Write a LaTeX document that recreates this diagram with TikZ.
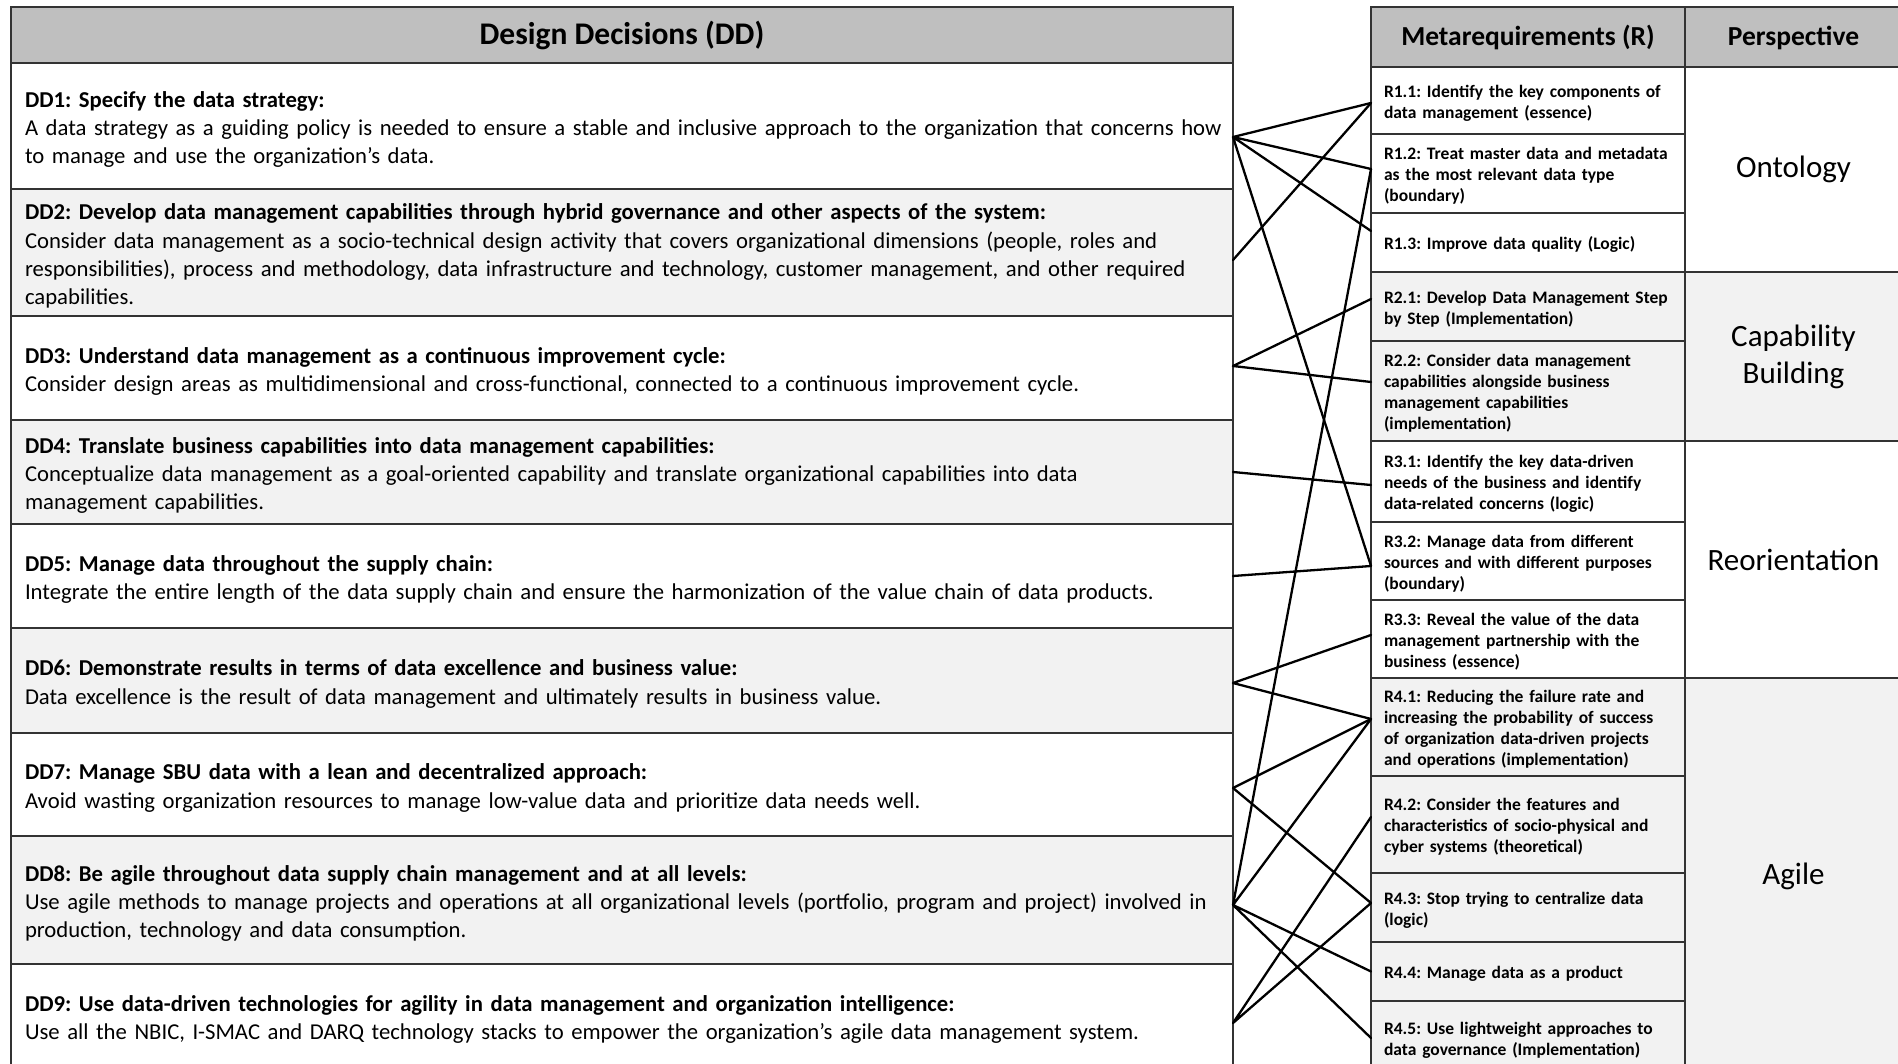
\documentclass[tikz,border=0pt]{standalone}
\usepackage{fontspec}
\setmainfont{Carlito}
\usepackage{xcolor}
\definecolor{hdrgray}{HTML}{BFBFBF}
\definecolor{rowgray}{HTML}{F2F2F2}
\usetikzlibrary{positioning}
\frenchspacing

\begin{document}
\begin{tikzpicture}[x=1pt,y=-1pt,node distance=0pt,
    cell/.style={rectangle,draw=black!80,line width=1.8pt,outer sep=0pt,inner ysep=0pt},
    hdr/.style={cell,fill=hdrgray,font=\fontsize{27.5}{32}\selectfont\bfseries,
                text height=24pt,text depth=7pt},
    dd/.style={cell,text width=1194pt,inner xsep=14pt,align=left,
               font=\fontsize{22.7}{28.3}\selectfont,
               execute at begin node={\rule{0pt}{23pt}}},
    req/.style={cell,text width=288pt,inner xsep=13pt,align=left,
                font=\fontsize{17.5}{21}\selectfont\bfseries,
                execute at begin node={\rule{0pt}{17.5pt}}},
    persp/.style={cell,minimum width=217pt,align=center,
                  font=\fontsize{31}{37}\selectfont},
    link/.style={line width=2.3pt,line cap=round}]
  \path[use as bounding box,fill=white] (0,0) rectangle (1898,1064);

  % design decisions
  \node[hdr,minimum width=1222pt,minimum height=56pt,anchor=north west,
        font=\fontsize{31.5}{36}\selectfont\bfseries,text height=27pt,text depth=8pt] (ddh) at (11,7) {Design Decisions (DD)};
  \node[dd,fill=white,minimum height=126pt,below=of ddh] (dd1) {\textbf{DD1: Specify the data strategy:}\\
    \mbox{A data strategy as a guiding policy is needed to ensure a stable and inclusive approach to the organization that concerns how}\\
    to manage and use the organization's data.};
  \node[dd,fill=rowgray,minimum height=127pt,below=of dd1] (dd2) {\textbf{DD2: Develop data management capabilities through hybrid governance and other aspects of the system:}\\
    \mbox{Consider data management as a socio-technical design activity that covers organizational dimensions (people, roles and}\\
    \mbox{responsibilities), process and methodology, data infrastructure and technology, customer management, and other required}\\
    capabilities.};
  \node[dd,fill=white,minimum height=104pt,below=of dd2] (dd3) {\textbf{DD3: Understand data management as a continuous improvement cycle:}\\
    Consider design areas as multidimensional and cross-functional, connected to a continuous improvement cycle.};
  \node[dd,fill=rowgray,minimum height=104pt,below=of dd3] (dd4) {\textbf{DD4: Translate business capabilities into data management capabilities:}\\
    Conceptualize data management as a goal-oriented capability and translate organizational capabilities into data\\
    management capabilities.};
  \node[dd,fill=white,minimum height=104pt,below=of dd4] (dd5) {\textbf{DD5: Manage data throughout the supply chain:}\\
    Integrate the entire length of the data supply chain and ensure the harmonization of the value chain of data products.};
  \node[dd,fill=rowgray,minimum height=105pt,below=of dd5] (dd6) {\textbf{DD6: Demonstrate results in terms of data excellence and business value:}\\
    Data excellence is the result of data management and ultimately results in business value.};
  \node[dd,fill=white,minimum height=103pt,below=of dd6] (dd7) {\textbf{DD7: Manage SBU data with a lean and decentralized approach:}\\
    Avoid wasting organization resources to manage low-value data and prioritize data needs well.};
  \node[dd,fill=rowgray,minimum height=128pt,below=of dd7] (dd8) {\textbf{DD8: Be agile throughout data supply chain management and at all levels:}\\
    \mbox{Use agile methods to manage projects and operations at all organizational levels (portfolio, program and project) involved in}\\
    production, technology and data consumption.};
  \node[dd,fill=white,minimum height=104pt,below=of dd8] (dd9) {\textbf{DD9: Use data-driven technologies for agility in data management and organization intelligence:}\\
    Use all the NBIC, I-SMAC and DARQ technology stacks to empower the organization's agile data management system.};

  % metarequirements
  \node[hdr,minimum width=314pt,minimum height=60pt,anchor=north west] (rh) at (1371,7) {Metarequirements (R)};
  \node[hdr,minimum width=217pt,minimum height=60pt,right=of rh] (ph) {Perspective};
  \node[req,fill=white,minimum height=67pt,below=of rh] (r11) {R1.1: Identify the key components of\\data management (essence)};
  \node[req,fill=white,minimum height=79pt,below=of r11] (r12) {R1.2: Treat master data and metadata\\as the most relevant data type\\(boundary)};
  \node[req,fill=white,minimum height=59pt,below=of r12] (r13) {R1.3: Improve data quality (Logic)};
  \node[req,fill=rowgray,minimum height=69pt,below=of r13] (r21) {R2.1: Develop Data Management Step\\by Step (Implementation)};
  \node[req,fill=rowgray,minimum height=100pt,below=of r21] (r22) {R2.2: Consider data management\\capabilities alongside business\\management capabilities\\(implementation)};
  \node[req,fill=white,minimum height=81pt,below=of r22] (r31) {R3.1: Identify the key data-driven\\needs of the business and identify\\data-related concerns (logic)};
  \node[req,fill=white,minimum height=78pt,below=of r31] (r32) {R3.2: Manage data from different\\sources and with different purposes\\(boundary)};
  \node[req,fill=white,minimum height=78pt,below=of r32] (r33) {R3.3: Reveal the value of the data\\management partnership with the\\business (essence)};
  \node[req,fill=rowgray,minimum height=98pt,below=of r33] (r41) {R4.1: Reducing the failure rate and\\increasing the probability of success\\of organization data-driven projects\\and operations (implementation)};
  \node[req,fill=rowgray,minimum height=97pt,below=of r41] (r42) {R4.2: Consider the features and\\characteristics of socio-physical and\\cyber systems (theoretical)};
  \node[req,fill=rowgray,minimum height=69pt,below=of r42] (r43) {R4.3: Stop trying to centralize data\\(logic)};
  \node[req,fill=rowgray,minimum height=59pt,below=of r43] (r44) {R4.4: Manage data as a product};
  \node[req,fill=rowgray,minimum height=74pt,below=of r44] (r45) {R4.5: Use lightweight approaches to\\data governance (Implementation)};

  % perspectives
  \node[persp,fill=white,minimum height=205pt,anchor=north west] (ont) at (r11.north east) {Ontology};
  \node[persp,fill=rowgray,minimum height=169pt,below=of ont] (cap) {Capability\\Building};
  \node[persp,fill=white,minimum height=237pt,below=of cap] (reo) {Reorientation};
  \node[persp,fill=rowgray,minimum height=397pt,below=of reo] (agl) {Agile};

  % link ends
  \coordinate (dd1x) at ([yshift=-11pt]dd1.east);
  \coordinate (dd2x) at ([yshift=-7.5pt]dd2.east);
  \coordinate (dd3x) at ([yshift=2pt]dd3.east);
  \coordinate (dd4x) at (dd4.east);
  \coordinate (dd5x) at (dd5.east);
  \coordinate (dd6x) at ([yshift=-2.5pt]dd6.east);
  \coordinate (dd7x) at ([yshift=-3.5pt]dd7.east);
  \coordinate (dd8x) at ([yshift=-5pt]dd8.east);
  \coordinate (dd9x) at ([yshift=-7pt]dd9.east);
  \coordinate (r11x) at ([yshift=-2.5pt]r11.west);
  \coordinate (r12x) at ([yshift=4.5pt]r12.west);
  \coordinate (r13x) at ([yshift=11.5pt]r13.west);
  \coordinate (r21x) at ([yshift=7.5pt]r21.west);
  \coordinate (r22x) at ([yshift=9pt]r22.west);
  \coordinate (r31x) at ([yshift=-3.5pt]r31.west);
  \coordinate (r32x) at ([yshift=-5pt]r32.west);
  \coordinate (r33x) at ([yshift=4pt]r33.west);
  \coordinate (r41x) at ([yshift=8pt]r41.west);
  \coordinate (r42x) at ([yshift=7.5pt]r42.west);
  \coordinate (r43x) at ([yshift=4.5pt]r43.west);
  \coordinate (r44x) at (r44.west);
  \coordinate (r45x) at (r45.west);

  \draw[link] (dd1x) -- (r11x) (dd1x) -- (r12x) (dd1x) -- (r13x) (dd1x) -- (r32x);
  \draw[link] (dd2x) -- (r11x);
  \draw[link] (dd3x) -- (r21x) (dd3x) -- (r22x);
  \draw[link] (dd4x) -- (r31x);
  \draw[link] (dd5x) -- (r32x);
  \draw[link] (dd6x) -- (r33x) (dd6x) -- (r41x);
  \draw[link] (dd7x) -- (r41x) (dd7x) -- (r43x);
  \draw[link] (dd8x) -- (r12x) (dd8x) -- (r41x) (dd8x) -- (r44x) (dd8x) -- (r45x);
  \draw[link] (dd9x) -- (r42x) (dd9x) -- (r43x);
\end{tikzpicture}
\end{document}
